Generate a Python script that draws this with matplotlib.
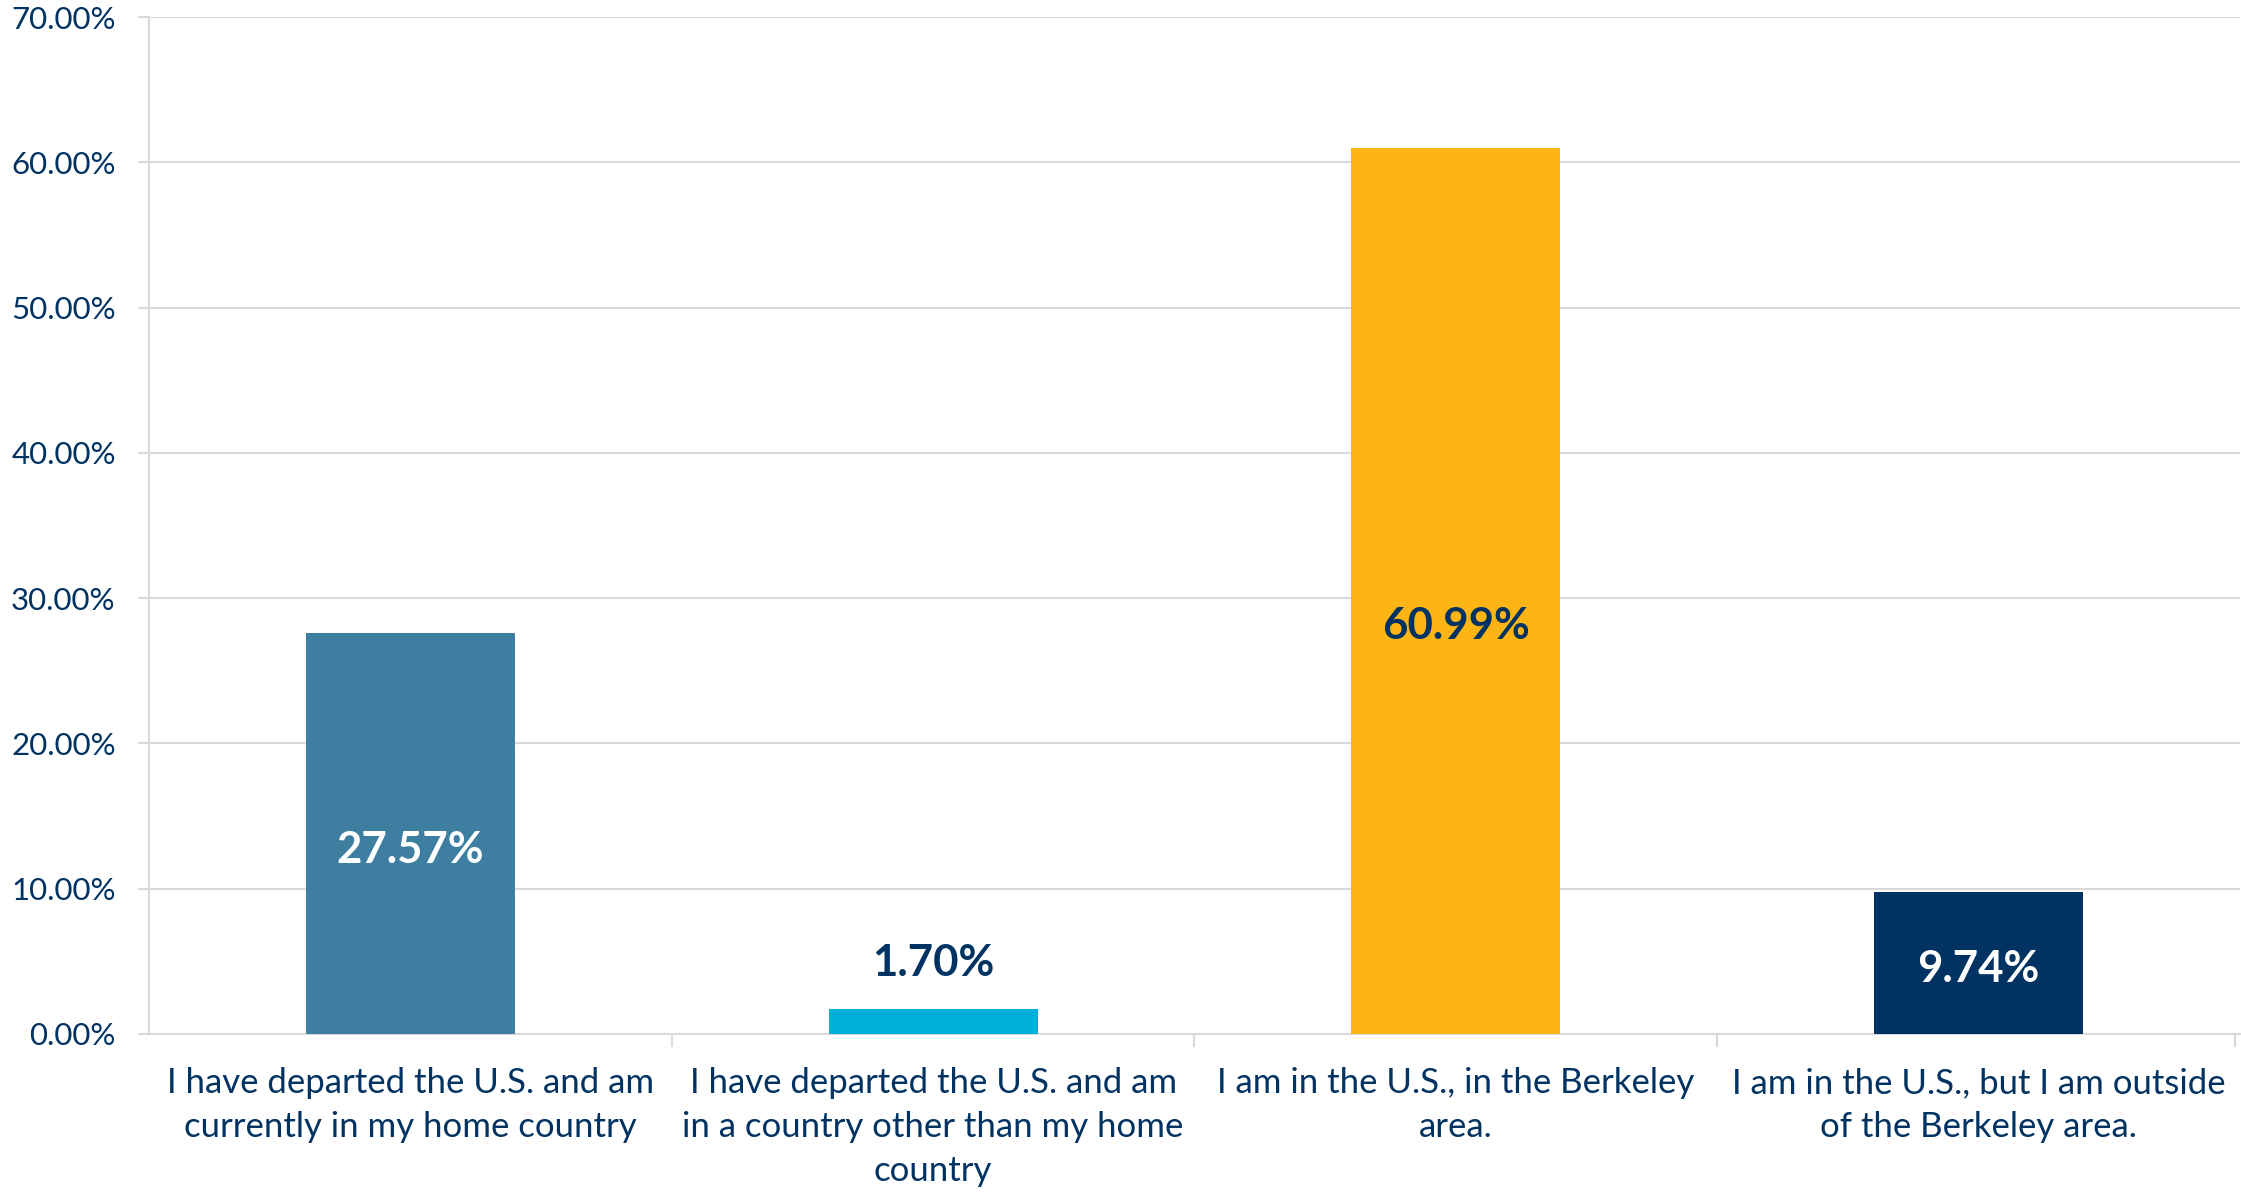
import matplotlib.pyplot as plt
import numpy as np
from matplotlib.ticker import FixedLocator, PercentFormatter

categories = [
    'I have departed the U.S. and am\ncurrently in my home country',
    'I have departed the U.S. and am\nin a country other than my home\ncountry',
    'I am in the U.S., in the Berkeley\narea.',
    'I am in the U.S., but I am outside\nof the Berkeley area.',
]
values = [27.57, 1.70, 60.99, 9.74]
bar_colors = ['#3E7EA1', '#00B0DA', '#FDB515', '#003262']
label_colors = ['white', '#003262', '#003262', 'white']

navy = '#003262'
grid = '#D9D9D9'

plt.rcParams['font.family'] = ['Lato', 'DejaVu Sans']

fig = plt.figure(figsize=(22.41, 11.92), dpi=100)
ax = fig.add_axes([0.0665, 0.1326, 0.933, 0.853])

x = np.arange(len(categories))
bars = ax.bar(x, values, width=0.40, color=bar_colors, zorder=3)

# value labels: inside the bar when there's room, above it otherwise
for bar, val, col in zip(bars, values, label_colors):
    cx = bar.get_x() + bar.get_width() / 2
    if val > 5:
        ax.text(cx, val * 0.46, f'{val:.2f}%', ha='center', va='center',
                fontsize=31.5, fontweight='bold', color=col, zorder=4)
    else:
        ax.annotate(f'{val:.2f}%', (cx, val), xytext=(0, 19), textcoords='offset points',
                    ha='center', va='bottom', fontsize=31.5, fontweight='bold', color=col)

ax.set_xlim(-0.5, 3.5)
ax.set_ylim(0, 70)
ax.set_yticks(np.arange(0, 71, 10))
ax.yaxis.set_major_formatter(PercentFormatter(decimals=2))
ax.grid(axis='y', color=grid, linewidth=1.5, zorder=0)

ax.set_xticks(x)
ax.set_xticklabels(categories, fontsize=25, color=navy, linespacing=1.45)
ax.xaxis.set_minor_locator(FixedLocator([0.5, 1.5, 2.5, 3.49]))
ax.tick_params(axis='x', which='major', length=0, pad=24)
ax.tick_params(axis='x', which='minor', length=9, width=1.5, color=grid)
ax.tick_params(axis='y', length=8, width=1.5, color=grid, labelsize=22.5,
               labelcolor=navy, pad=16)

for s in ['top', 'right']:
    ax.spines[s].set_visible(False)
for s in ['left', 'bottom']:
    ax.spines[s].set_color(grid)
    ax.spines[s].set_linewidth(1.5)

fig.savefig('out.png', dpi=100)
